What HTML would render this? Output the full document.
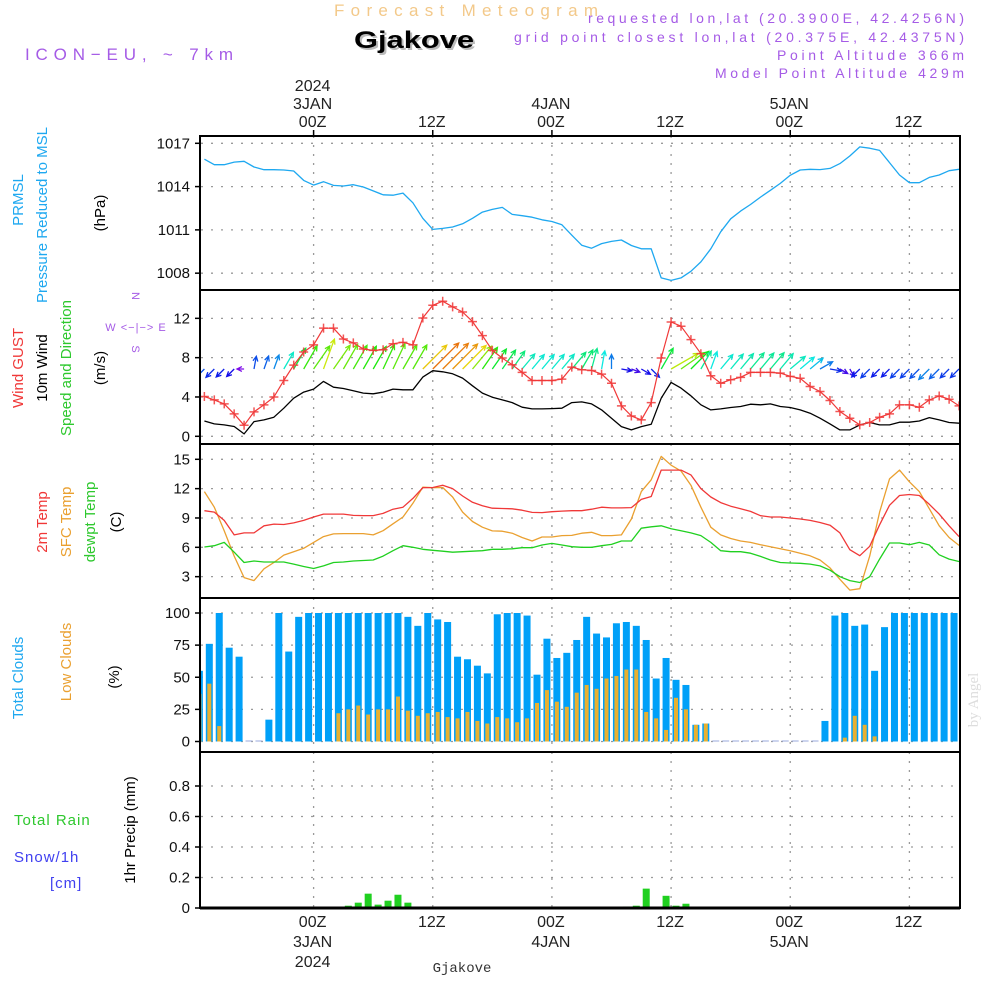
<!DOCTYPE html>
<html><head><meta charset="utf-8"><title>Forecast Meteogram Gjakove</title>
<style>
html,body{margin:0;padding:0;background:#fff;}
svg{display:block;font-family:"Liberation Sans",sans-serif;}
</style></head>
<body>
<svg id="chart" width="1000" height="1000" viewBox="0 0 1000 1000" xmlns="http://www.w3.org/2000/svg">
<defs><clipPath id="plotclip"><rect x="201" y="136" width="758" height="772"/></clipPath></defs>
<rect x="0" y="0" width="1000" height="1000" fill="#fff"/>
<g>
<text x="334" y="16" font-size="17" fill="#f3c98a" textLength="264" lengthAdjust="spacing">Forecast Meteogram</text>
<text x="356" y="50" font-size="24" font-weight="bold" fill="#bbb" textLength="120" lengthAdjust="spacingAndGlyphs">Gjakove</text>
<text x="354" y="48" font-size="24" font-weight="bold" fill="#000" textLength="120" lengthAdjust="spacingAndGlyphs">Gjakove</text>
<text x="25" y="60" font-size="17" fill="#a55be6" textLength="208" lengthAdjust="spacing">ICON−EU, ~ 7km</text>
<text x="588" y="23" font-size="14" fill="#a55be6" textLength="376" lengthAdjust="spacing">requested lon,lat (20.3900E, 42.4256N)</text>
<text x="514" y="42" font-size="14" fill="#a55be6" textLength="450" lengthAdjust="spacing">grid point closest lon,lat (20.375E, 42.4375N)</text>
<text x="777" y="60" font-size="14" fill="#a55be6" textLength="187" lengthAdjust="spacing">Point Altitude 366m</text>
<text x="715" y="78" font-size="14" fill="#a55be6" textLength="249" lengthAdjust="spacing">Model Point Altitude 429m</text>
<text x="978" y="700" text-anchor="middle" font-size="15" fill="#ddd" font-family="Liberation Serif, serif" transform="rotate(-90 978 700)">by Angel</text>
</g>
<g font-size="15">
<text transform="translate(23,200) rotate(-90)" text-anchor="middle" fill="#1ea8f0">PRMSL</text>
<text transform="translate(47,215) rotate(-90)" text-anchor="middle" fill="#1ea8f0">Pressure Reduced to MSL</text>
<text transform="translate(105,213) rotate(-90)" text-anchor="middle" fill="#000">(hPa)</text>
<text transform="translate(23,368) rotate(-90)" text-anchor="middle" fill="#f03838">Wind GUST</text>
<text transform="translate(47,368) rotate(-90)" text-anchor="middle" fill="#000">10m Wind</text>
<text transform="translate(71,368) rotate(-90)" text-anchor="middle" fill="#2ec82e">Speed and Direction</text>
<text transform="translate(105,368) rotate(-90)" text-anchor="middle" fill="#000">(m/s)</text>
<g fill="#a55be6" font-size="11">
<text x="136" y="300" text-anchor="middle" transform="rotate(90 136 296)">N</text>
<text x="136" y="331" text-anchor="middle" letter-spacing="1">W  &lt;−|−&gt;  E</text>
<text x="136" y="353" text-anchor="middle" transform="rotate(90 136 349)">S</text>
</g>
<text transform="translate(47,522) rotate(-90)" text-anchor="middle" fill="#f03838">2m Temp</text>
<text transform="translate(71,522) rotate(-90)" text-anchor="middle" fill="#eaa030">SFC Temp</text>
<text transform="translate(95,522) rotate(-90)" text-anchor="middle" fill="#2ec82e">dewpt Temp</text>
<text transform="translate(121,522) rotate(-90)" text-anchor="middle" fill="#000">(C)</text>
<text transform="translate(23,678) rotate(-90)" text-anchor="middle" fill="#1ea8f0">Total Clouds</text>
<text transform="translate(71,662) rotate(-90)" text-anchor="middle" fill="#eaa030">Low Clouds</text>
<text transform="translate(119,677) rotate(-90)" text-anchor="middle" fill="#000">(%)</text>
<text x="14" y="825" fill="#2ec82e" letter-spacing="1">Total  Rain</text>
<text x="14" y="862" fill="#4040f0" letter-spacing="1">Snow/1h</text>
<text x="50" y="888" fill="#4040f0" letter-spacing="1">[cm]</text>
<text transform="translate(135,830) rotate(-90)" text-anchor="middle" fill="#000">1hr Precip (mm)</text>
</g>
<g id="dyn"></g>
<text x="462" y="972" text-anchor="middle" font-size="14" font-family="Liberation Mono, monospace" fill="#333">Gjakove</text>
</svg>
<script>
// ---- data (hourly, starting 13Z 2 JAN 2024) ----
const startHour = -11;
const pressure = [1015.9,1015.52,1015.52,1015.7,1015.75,1015.36,1015.17,1015.17,1015.15,1015.08,
1014.43,1014.1,1014.34,1014.08,1014.04,1014.13,1013.97,1013.7,1013.43,1013.4,
1013.55,1012.88,1011.8,1011.03,1011.1,1011.2,1011.42,1011.8,1012.23,1012.42,
1012.56,1012.07,1011.98,1011.88,1011.7,1011.58,1011.35,1010.63,1009.94,1009.73,
1010.05,1010.2,1010.3,1009.92,1009.69,1009.69,1007.67,1007.5,1007.67,1008.13,
1008.78,1009.69,1010.87,1011.77,1012.3,1012.76,1013.27,1013.74,1014.22,1014.78,
1015.15,1015.2,1015.18,1015.26,1015.59,1016.12,1016.75,1016.66,1016.51,1015.66,
1014.8,1014.27,1014.27,1014.64,1014.8,1015.1,1015.2];
const gust = [4.05,3.7,3.3,2.28,1.12,2.48,3.2,4.0,5.68,7.24,8.57,9.3,11.0,11.0,9.9,9.5,8.88,8.74,8.8,9.42,
9.56,9.3,12.04,13.33,13.74,13.16,12.65,11.67,10.24,8.74,7.96,7.28,6.5,5.68,5.68,5.68,5.82,7.04,6.77,6.7,
6.33,5.4,3.1,2.07,1.67,3.43,7.96,11.63,11.2,9.83,8.4,6.16,5.4,5.75,6.0,6.5,6.5,6.5,6.43,6.1,
5.9,5.07,4.56,3.64,2.52,1.84,1.16,1.4,1.94,2.28,3.2,3.2,2.96,3.7,4.1,3.77,3.1];
const wind10 = [1.56,1.26,1.16,1.0,0.24,1.5,1.67,1.94,2.86,3.88,4.5,4.8,5.58,5.0,4.86,4.63,4.39,4.32,4.5,4.8,
4.73,4.73,6.02,6.67,6.56,6.36,5.92,5.14,4.39,3.98,3.7,3.43,2.96,2.79,2.79,2.82,2.86,3.43,3.5,3.3,
2.69,1.84,0.99,0.65,0.99,1.22,3.88,5.48,4.9,4.12,3.2,2.69,2.79,2.93,3.03,3.27,3.2,3.3,3.03,2.93,
2.69,2.35,1.84,1.26,0.65,0.65,1.16,1.4,1.16,1.16,1.43,1.43,1.56,1.9,1.67,1.4,1.33];
const windDir = [225,225,225,225,270,10,20,20,30,30,
30,35,20,35,30,30,30,30,25,25,30,30,
45,45,45,45,45,40,35,35,35,35,
40,40,40,40,40,40,30,15,10,
0,100,110,120,135,30,60,55,45,
30,20,40,40,40,40,40,40,40,50,50,50,
60,100,120,150,225,225,225,225,225,225,225,225,225,225,225];
const t2m = [9.74,9.6,8.75,7.27,7.47,7.47,8.2,8.37,8.33,8.5,8.75,9.1,9.4,9.4,9.4,9.26,9.24,9.24,9.47,9.9,
10.1,11.0,12.1,12.12,12.35,12.0,11.25,10.6,10.26,10.0,9.97,9.94,9.8,9.57,9.55,9.64,9.7,9.74,9.74,9.9,
10.1,10.03,10.03,10.06,10.9,11.2,13.9,13.9,13.9,13.4,12.0,11.15,10.57,10.2,9.95,9.67,9.23,9.1,9.1,9.0,
8.9,8.75,8.54,8.26,7.47,5.76,5.14,6.1,8.3,10.3,11.3,11.4,11.3,10.4,9.4,8.2,7.1];
const sfcTemp = [11.7,10.1,7.7,5.1,2.9,2.6,3.8,4.45,5.2,5.55,5.9,6.5,7.1,7.37,7.4,7.4,7.4,7.27,7.7,8.4,
9.1,10.5,12.15,12.1,12.12,11.15,9.6,8.64,8.06,7.68,7.65,7.44,7.0,6.65,7.06,7.06,7.2,7.22,7.44,7.54,
7.2,7.2,7.27,8.9,11.7,12.9,15.3,14.4,13.8,12.35,10.1,8.06,7.27,6.9,6.65,6.5,6.27,6.06,5.86,5.65,
5.4,5.13,4.7,3.9,2.73,1.63,1.77,5.1,9.6,13.0,13.9,12.7,11.7,9.95,8.2,7.0,6.2];
const dewpt = [6.03,6.17,6.5,5.5,4.45,4.6,4.5,4.5,4.5,4.28,4.04,3.83,4.1,4.45,4.5,4.6,4.65,4.7,5.1,5.65,
6.17,6.0,5.8,5.7,5.6,5.5,5.55,5.6,5.65,5.8,5.8,5.85,5.96,5.96,6.24,6.4,6.24,6.06,6.0,6.0,
6.17,6.3,6.65,6.65,7.95,8.1,8.2,7.9,7.7,7.47,7.2,6.5,5.65,5.55,5.55,5.4,5.07,4.7,4.45,4.4,
4.37,4.28,4.1,3.66,3.0,2.6,2.4,3.0,4.8,6.44,6.44,6.27,6.5,6.24,5.24,4.8,4.55];
const totalClouds = [55,76,100,73,66,0,0,17,100,70,97,100,100,100,100,100,100,100,100,100,
100,97,90,100,95,93,66,64,59,53,99,100,100,98,52,80,65,69,79,97,
84,81,92,93,90,79,49,65,48,44,13,14,0,0,0,0,0,0,0,0,
0,0,0,16,98,100,90,91,55,89,100,100,100,100,100,100,100];
const lowClouds = [37,45,12,0,0,0,0,0,0,0,0,0,0,0,22,25,28,21,25,25,
35,24,20,22,23,19,18,23,16,14,19,18,15,18,30,40,31,27,38,44,
41,49,51,56,56,23,18,9,34,25,13,14,0,0,0,0,0,0,0,0,
0,0,0,0,0,3,20,13,4,0,0,0,0,0,0,0,0];
const precip = [0,0,0,0,0,0,0,0,0,0,0,0,0,0,0.005,0.015,0.035,0.094,0.022,0.048,
0.087,0.035,0,0,0,0,0,0,0,0,0,0,0,0,0,0,0,0,0,0,
0,0,0,0.01,0.015,0.127,0.003,0.08,0.015,0.028,0,0,0,0,0,0,0,0,0,0,
0,0,0,0,0,0,0,0,0,0,0,0,0,0,0,0,0];
const pressureTicks = [1017,1014,1011,1008];
const windTicks = [12,8,4,0];
const tempTicks = [15,12,9,6,3];
const cloudTicks = [100,75,50,25,0];
const precipTicks = ["0.8","0.6","0.4","0.2","0"];
const timeTicks = [0,12,24,36,48,60];
const topLabels = [["2024","3JAN","00Z"],["","","12Z"],["","4JAN","00Z"],["","","12Z"],["","5JAN","00Z"],["","","12Z"]];
const bottomLabels = [["00Z","3JAN","2024"],["12Z","",""],["00Z","4JAN",""],["12Z","",""],["00Z","5JAN",""],["12Z","",""]];

// ---- scales ----
const xS = h => 313.6 + 9.93*h;
const xi = i => xS(startHour + i);
const yP = p => 143.3 + (1017 - p)*14.43;
const yW = v => 436.3 - v*9.83;
const yT = t => 459.3 + (15 - t)*9.78;
const yC = c => 741.5 - c*1.285;
const yR = r => 908 - r*152.5;
const panels = [[136,290],[290,444],[444,598],[598,752],[752,908]];

const NS = "http://www.w3.org/2000/svg";
const root = document.getElementById('dyn');
function mk(tag, attrs, parent){
  const e = document.createElementNS(NS, tag);
  for (const k in attrs) e.setAttribute(k, attrs[k]);
  (parent || root).appendChild(e);
  return e;
}
function grp(name, parent, clip){
  const g = mk('g', clip ? {'clip-path':'url(#plotclip)'} : {}, parent);
  
  
  return g;
}

// grid
const gridG = grp('grid', root, false);
panels.forEach(p => {
  timeTicks.forEach(h => {
    const l = mk('line', {x1:xS(h), x2:xS(h), y1:p[0], y2:p[1], stroke:'#9a9a9a', 'stroke-width':1.3, 'stroke-dasharray':'2,7'}, gridG);
    
    
  });
});
function hgrid(vals, f){
  vals.forEach(v => {
    const y = f(+v);
    const l = mk('line', {x1:201, x2:959, y1:y, y2:y, stroke:'#9a9a9a', 'stroke-width':1.3, 'stroke-dasharray':'2,8'}, gridG);
    
    
  });
}
hgrid(pressureTicks, yP); hgrid(windTicks, yW); hgrid(tempTicks, yT); hgrid(cloudTicks, yC); hgrid(precipTicks, yR);

// tick labels
function ticks(vals, f, name){
  const g = grp(name, root, false);
  vals.forEach(v => {
    const y = f(+v);
    const t = mk('text', {x:190, y:y+5, 'text-anchor':'end', 'font-size':15, fill:'#111'}, g);
    t.textContent = v;
    
    
    const tk = mk('line', {x1:195, x2:201, y1:y, y2:y, stroke:'#000', 'stroke-width':1.5}, g);
    
    
  });
}
ticks(pressureTicks, yP, 'pressure-y-axis');
ticks(windTicks, yW, 'wind-y-axis');
ticks(tempTicks, yT, 'temp-y-axis');
ticks(cloudTicks, yC, 'cloud-y-axis');
ticks(precipTicks, yR, 'precip-y-axis');

// time labels
const topG = grp('top-time-axis', root, false);
timeTicks.forEach((h, k) => {
  topLabels[k].forEach((s, j) => {
    if (!s) return;
    const t = mk('text', {x:xS(h)-1, y:91+j*18, 'text-anchor':'middle', 'font-size':16, fill:'#222'}, topG);
    t.textContent = s;
    
    
  });
  const tk = mk('line', {x1:xS(h), x2:xS(h), y1:130, y2:137, stroke:'#000', 'stroke-width':1.5}, topG);
  
  
});
const botG = grp('bottom-time-axis', root, false);
timeTicks.forEach((h, k) => {
  bottomLabels[k].forEach((s, j) => {
    if (!s) return;
    const t = mk('text', {x:xS(h)-1, y:927+j*20, 'text-anchor':'middle', 'font-size':16, fill:'#222'}, botG);
    t.textContent = s;
    
    
  });
});

function linePath(arr, f, color, name, w){
  const d = arr.map((v,i) => (i?'L':'M') + xi(i).toFixed(1) + ',' + f(v).toFixed(1)).join(' ');
  const p = mk('path', {d:d, fill:'none', stroke:color, 'stroke-width':w||1.3, 'stroke-linejoin':'round'}, plotG);
  
  
}
const plotG = grp('plot-area', root, true);

// pressure
linePath(pressure, yP, '#1ea8f0', 'pressure-line');

// wind arrows
const arrowsG = grp('wind-arrows', plotG, false);
windDir.forEach((dir, i) => {
  const sp = wind10[i];
  const L = 6 + 4.6*sp;
  const bx = xi(i), by = 369;
  const a = dir*Math.PI/180;
  const ex = bx + L*Math.sin(a), ey = by - L*Math.cos(a);
  const hue = Math.max(28, Math.min(275, 280 - sp*38));
  const col = 'hsl(' + hue.toFixed(0) + ',90%,48%)';
  const hl = 5.5;
  const a1 = a + Math.PI - 0.45, a2 = a + Math.PI + 0.45;
  const d = 'M'+bx.toFixed(1)+','+by+' L'+ex.toFixed(1)+','+ey.toFixed(1)+
    ' M'+(ex+hl*Math.sin(a1)).toFixed(1)+','+(ey-hl*Math.cos(a1)).toFixed(1)+' L'+ex.toFixed(1)+','+ey.toFixed(1)+
    ' L'+(ex+hl*Math.sin(a2)).toFixed(1)+','+(ey-hl*Math.cos(a2)).toFixed(1);
  const p = mk('path', {d:d, fill:'none', stroke:col, 'stroke-width':1.3}, arrowsG);
  
  
});

// gust + 10m wind
linePath(wind10, yW, '#000', 'wind10-line');
linePath(gust, yW, '#f03838', 'gust-line', 1.2);
const gm = grp('gust-markers', plotG, false);
gust.forEach((v, i) => {
  const x = xi(i), y = yW(v);
  const p = mk('path', {d:'M'+(x-4.5)+','+y+' h9 M'+x+','+(y-4.5)+' v9', stroke:'#f03838', 'stroke-width':1.5, fill:'none', opacity:0.85}, gm);
  
  
});

// temperatures
linePath(sfcTemp, yT, '#eaa030', 'sfc-temp-line');
linePath(dewpt, yT, '#20d020', 'dewpoint-line');
linePath(t2m, yT, '#f03838', 't2m-line');

// clouds
const cg = grp('cloud-bars', plotG, false);
totalClouds.forEach((v, i) => {
  const cx = xi(i) - 5;
  if (v > 0) {
    const r = mk('rect', {x:cx-3.5, y:yC(v), width:7, height:yC(0)-yC(v), fill:'#00a0f8'}, cg);
    
    
  } else {
    const r = mk('rect', {x:cx-3.5, y:yC(0)-1, width:7, height:1, fill:'#9ad'}, cg);
    
    
  }
});
lowClouds.forEach((v, i) => {
  if (v <= 0) return;
  const cx = xi(i) - 5;
  const r = mk('rect', {x:cx-2, y:yC(v), width:4, height:yC(0)-yC(v), fill:'#e8b030'}, cg);
  
  
});

// precip
const pg = grp('precip-bars', plotG, false);
precip.forEach((v, i) => {
  if (v <= 0) return;
  const cx = xi(i) - 5;
  const r = mk('rect', {x:cx-3.5, y:yR(v), width:7, height:yR(0)-yR(v), fill:'#20d020'}, pg);
  
  
});

// frames
const fg = grp('panel-frames', root, false);
panels.forEach(p => {
  const r = mk('rect', {x:200, y:p[0], width:760, height:p[1]-p[0], fill:'none', stroke:'#000', 'stroke-width':2}, fg);
  
  
});
const base = mk('line', {x1:200, x2:960, y1:908, y2:908, stroke:'#000', 'stroke-width':3}, fg);


</script>
</body></html>
